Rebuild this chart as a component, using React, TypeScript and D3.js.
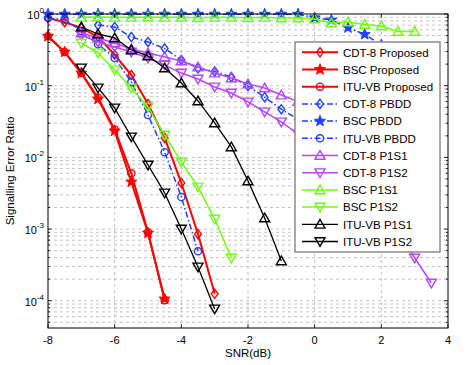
import React from 'react';
import * as d3 from 'd3';

// ---------- data ----------
const xTicks = [-8, -6, -4, -2, 0, 2, 4];
const yTickExps = [0, -1, -2, -3, -4];

const cdt8ProposedSnr = [-8, -7.5, -7, -6.5, -6, -5.5, -5, -4.5, -4, -3.5, -3];
const cdt8ProposedSer = [0.88, 0.77, 0.64, 0.48, 0.27, 0.141, 0.0557, 0.0187, 0.0044, 0.00085, 0.000125];
const bscProposedSnr = [-8, -7.5, -7, -6.5, -6, -5.5, -5, -4.5];
const bscProposedSer = [0.49, 0.295, 0.15, 0.065, 0.0234, 0.00454, 0.00088, 0.000106];
const ituProposedSnr = [-8, -7.5, -7, -6.5, -6, -5.5, -5, -4.5];
const ituProposedSer = [0.49, 0.295, 0.15, 0.068, 0.0245, 0.006, 0.0009, 0.000102];
const cdt8PbddSnr = [-6.5, -6, -5.5, -5, -4.5, -4, -3.5, -3, -2.5, -2, -1.5, -1, -0.5, 0];
const cdt8PbddSer = [0.7, 0.66, 0.477, 0.407, 0.33, 0.228, 0.175, 0.158, 0.132, 0.099, 0.069, 0.047, 0.034, 0.025];
const bscPbddSnr = [-8, -7.5, -7, -6.5, -6, -5.5, -5, -4.5, -4, -3.5, -3, -2.5, -2, -1.5, -1, -0.5, 0, 0.5, 1, 1.5, 2];
const bscPbddSer = [0.995, 0.995, 0.995, 0.995, 0.995, 0.995, 0.995, 0.995, 0.995, 0.995, 0.995, 0.995, 0.995, 0.995, 0.995, 0.995, 0.888, 0.825, 0.644, 0.52, 0.37];
const ituPbddSnr = [-8, -7.5, -7, -6.5, -6, -5.5, -5, -4.5, -4, -3.5];
const ituPbddSer = [0.88, 0.83, 0.58, 0.38, 0.243, 0.112, 0.039, 0.0118, 0.0028, 0.00049];
const cdt8P1s1Snr = [-7, -6.5, -6, -5.5, -5, -4.5, -4, -3.5, -3, -2.5, -2, -1.5, -1, -0.5, 0, 0.5, 1, 1.5, 2, 2.5, 3, 3.5];
const cdt8P1s1Ser = [0.543, 0.463, 0.394, 0.325, 0.286, 0.251, 0.221, 0.182, 0.15, 0.128, 0.106, 0.093, 0.074, 0.06, 0.048, 0.038, 0.029, 0.021, 0.015, 0.01, 0.0068, 0.0045];
const cdt8P1s2Snr = [-7, -6.5, -6, -5.5, -5, -4.5, -4, -3.5, -3, -2.5, -2, -1.5, -1, -0.5, 0, 0.5, 1, 1.5, 2, 2.5, 3, 3.5];
const cdt8P1s2Ser = [0.509, 0.407, 0.347, 0.295, 0.243, 0.194, 0.15, 0.124, 0.096, 0.079, 0.0593, 0.043, 0.0312, 0.0212, 0.0144, 0.0092, 0.00568, 0.00329, 0.00185, 0.00091, 0.000395, 0.000177];
const bscP1s1Snr = [-7, -6.5, -6, -5.5, -5, -4.5, -4, -3.5, -3, -2.5, -2, -1.5, -1, -0.5, 0, 0.5, 1, 1.5, 2, 2.5, 3];
const bscP1s1Ser = [0.9, 0.91, 0.9, 0.9, 0.91, 0.9, 0.9, 0.89, 0.9, 0.9, 0.89, 0.9, 0.88, 0.88, 0.85, 0.749, 0.773, 0.714, 0.68, 0.57, 0.57];
const bscP1s2Snr = [-7, -6.5, -6, -5.5, -5, -4.5, -4, -3.5, -3, -2.5];
const bscP1s2Ser = [0.394, 0.286, 0.166, 0.093, 0.0505, 0.0205, 0.00863, 0.00387, 0.00138, 0.000395];
const ituP1s1Snr = [-7, -6.5, -6, -5.5, -5, -4.5, -4, -3.5, -3, -2.5, -2, -1.5, -1];
const ituP1s1Ser = [0.659, 0.526, 0.463, 0.315, 0.26, 0.177, 0.109, 0.0612, 0.0302, 0.014, 0.0047, 0.00143, 0.000359];
const ituP1s2Snr = [-7, -6.5, -6, -5.5, -5, -4.5, -4, -3.5, -3];
const ituP1s2Ser = [0.177, 0.093, 0.0489, 0.0193, 0.00783, 0.00319, 0.001, 0.000296, 0.000077];

const RED = '#ff0000';
const BLUE = '#2040ff';
const PURPLE = '#b646ff';
const GREEN = '#6cff10';
const BLACK = '#000000';
const DASHDOT = '6,2.5,1.5,2.5';

type Marker = 'diamond' | 'star' | 'circle' | 'tri-up' | 'tri-down';
interface Series { name: string; snr: number[]; ser: number[]; color: string; marker: Marker; dash?: string; width: number; }

const series: Series[] = [
  { name: 'CDT-8 Proposed', snr: cdt8ProposedSnr, ser: cdt8ProposedSer, color: RED, marker: 'diamond', width: 2 },
  { name: 'BSC Proposed', snr: bscProposedSnr, ser: bscProposedSer, color: RED, marker: 'star', width: 2 },
  { name: 'ITU-VB Proposed', snr: ituProposedSnr, ser: ituProposedSer, color: RED, marker: 'circle', width: 2 },
  { name: 'CDT-8 PBDD', snr: cdt8PbddSnr, ser: cdt8PbddSer, color: BLUE, marker: 'diamond', dash: DASHDOT, width: 1.5 },
  { name: 'BSC PBDD', snr: bscPbddSnr, ser: bscPbddSer, color: BLUE, marker: 'star', dash: DASHDOT, width: 1.5 },
  { name: 'ITU-VB PBDD', snr: ituPbddSnr, ser: ituPbddSer, color: BLUE, marker: 'circle', dash: DASHDOT, width: 1.5 },
  { name: 'CDT-8 P1S1', snr: cdt8P1s1Snr, ser: cdt8P1s1Ser, color: PURPLE, marker: 'tri-up', width: 1.5 },
  { name: 'CDT-8 P1S2', snr: cdt8P1s2Snr, ser: cdt8P1s2Ser, color: PURPLE, marker: 'tri-down', width: 1.5 },
  { name: 'BSC P1S1', snr: bscP1s1Snr, ser: bscP1s1Ser, color: GREEN, marker: 'tri-up', width: 1.5 },
  { name: 'BSC P1S2', snr: bscP1s2Snr, ser: bscP1s2Ser, color: GREEN, marker: 'tri-down', width: 1.5 },
  { name: 'ITU-VB P1S1', snr: ituP1s1Snr, ser: ituP1s1Ser, color: BLACK, marker: 'tri-up', width: 1.3 },
  { name: 'ITU-VB P1S2', snr: ituP1s2Snr, ser: ituP1s2Ser, color: BLACK, marker: 'tri-down', width: 1.3 },
];

// ---------- layout ----------
const W = 474, H = 365;
const L = 48, R = 448, T = 14, B = 328;
const x = d3.scaleLinear().domain([-8, 4]).range([L, R]);
const y = d3.scaleLog().domain([Math.pow(10, -4.38), 1]).range([B, T]);

function starPath(ro: number, ri: number) {
  const pts: string[] = [];
  for (let i = 0; i < 10; i++) {
    const r = i % 2 === 0 ? ro : ri;
    const a = -Math.PI / 2 + (i * Math.PI) / 5;
    pts.push(`${(r * Math.cos(a)).toFixed(2)},${(r * Math.sin(a)).toFixed(2)}`);
  }
  return 'M' + pts.join('L') + 'Z';
}
const STAR = starPath(5.8, 2.4);

function MarkerShape({ m, cx, cy, color }: { m: Marker; cx: number; cy: number; color: string }) {
  const common = { stroke: color, strokeWidth: 1.4, fill: 'none' } as any;
  const tr = `translate(${cx},${cy})`;
  switch (m) {
    case 'diamond':
      return <path transform={tr} d="M0,-4.6L3.4,0L0,4.6L-3.4,0Z" {...common} />;
    case 'circle':
      return <circle cx={cx} cy={cy} r={3.6} {...common} />;
    case 'star':
      return <path transform={tr} d={STAR} stroke={color} strokeWidth={1} fill={color} />;
    case 'tri-up':
      return <path transform={tr} d="M0,-4.8L5,3.8L-5,3.8Z" {...common} />;
    case 'tri-down':
      return <path transform={tr} d="M0,4.8L5,-3.8L-5,-3.8Z" {...common} />;
  }
}

const line = d3.line<[number, number]>().x(d => x(d[0])).y(d => y(d[1]));

export default function App() {
  const font = "'Liberation Sans', Arial, Helvetica, sans-serif";
  const minor: number[] = [];
  for (let e = -5; e < 0; e++) for (let k = 2; k <= 9; k++) {
    const v = k * Math.pow(10, e);
    if (v >= y.domain()[0] && v <= 1) minor.push(v);
  }
  const major = yTickExps.map(e => Math.pow(10, e));
  const legX = 295, legY = 42, legW = 145, legH = 210;
  const legStep = 17.2, legFirst = 52.3;

  return (
    <svg width={W} height={H} style={{ position: 'absolute', left: 0, top: 0, background: '#fff' }} fontFamily={font}>
      <rect x={0} y={0} width={W} height={H} fill="#fff" />
      <rect x={L} y={T} width={R - L} height={B - T} fill="#fff" />
      {/* grid */}
      <g stroke="#b4b4b4" strokeWidth={0.8} strokeDasharray="3,3">
        {xTicks.slice(1, -1).map(t => <line key={'gx' + t} x1={x(t)} x2={x(t)} y1={T} y2={B} />)}
        {major.slice(1).map(v => <line key={'gy' + v} x1={L} x2={R} y1={y(v)} y2={y(v)} />)}
        {minor.map(v => <line key={'gm' + v} x1={L} x2={R} y1={y(v)} y2={y(v)} />)}
      </g>
      {/* series */}
      {series.map(s => {
        const pts = s.snr.map((v, i) => [v, s.ser[i]] as [number, number]);
        return (
          <g key={s.name}>
            <path d={line(pts) || ''} fill="none" stroke={s.color} strokeWidth={s.width} strokeDasharray={s.dash} strokeLinejoin="round" />
            {pts.map((p, i) => <MarkerShape key={i} m={s.marker} cx={x(p[0])} cy={y(p[1])} color={s.color} />)}
          </g>
        );
      })}
      {/* axes box and ticks */}
      <rect x={L} y={T} width={R - L} height={B - T} fill="none" stroke="#000" strokeWidth={1} />
      <g stroke="#000" strokeWidth={0.8}>
        {xTicks.map(t => (
          <g key={'tx' + t}>
            <line x1={x(t)} x2={x(t)} y1={B} y2={B - 4} />
            <line x1={x(t)} x2={x(t)} y1={T} y2={T + 4} />
          </g>
        ))}
        {major.map(v => (
          <g key={'ty' + v}>
            <line x1={L} x2={L + 4} y1={y(v)} y2={y(v)} />
            <line x1={R} x2={R - 4} y1={y(v)} y2={y(v)} />
          </g>
        ))}
        {minor.map(v => (
          <g key={'tm' + v}>
            <line x1={L} x2={L + 2} y1={y(v)} y2={y(v)} />
            <line x1={R} x2={R - 2} y1={y(v)} y2={y(v)} />
          </g>
        ))}
      </g>
      {/* tick labels */}
      <g fontSize={11} fill="#000">
        {xTicks.map(t => (
          <text key={'lx' + t} x={x(t)} y={344} textAnchor="middle">{t < 0 ? '-' + Math.abs(t) : String(t)}</text>
        ))}
        {yTickExps.map(e => (
          <text key={'ly' + e} x={44} y={y(Math.pow(10, e)) + 5} textAnchor="end">
            10<tspan dy={-6} fontSize={8}>{e < 0 ? '-' + Math.abs(e) : String(e)}</tspan>
          </text>
        ))}
      </g>
      <text x={248} y={357} textAnchor="middle" fontSize={11.5}>SNR(dB)</text>
      <text transform={`translate(14,${(T + B) / 2}) rotate(-90)`} textAnchor="middle" fontSize={11.5}>Signalling Error Ratio</text>
      {/* legend */}
      <rect x={legX} y={legY} width={legW} height={legH} fill="#fff" stroke="#8c8c8c" strokeWidth={1.5} />
      {series.map((s, i) => {
        const ly = legFirst + i * legStep;
        return (
          <g key={'leg' + s.name}>
            <line x1={302} x2={338} y1={ly} y2={ly} stroke={s.color} strokeWidth={s.width} strokeDasharray={s.dash} />
            <MarkerShape m={s.marker} cx={320} cy={ly} color={s.color} />
            <text x={343} y={ly + 4.2} fontSize={11.5}>{s.name}</text>
          </g>
        );
      })}
    </svg>
  );
}
